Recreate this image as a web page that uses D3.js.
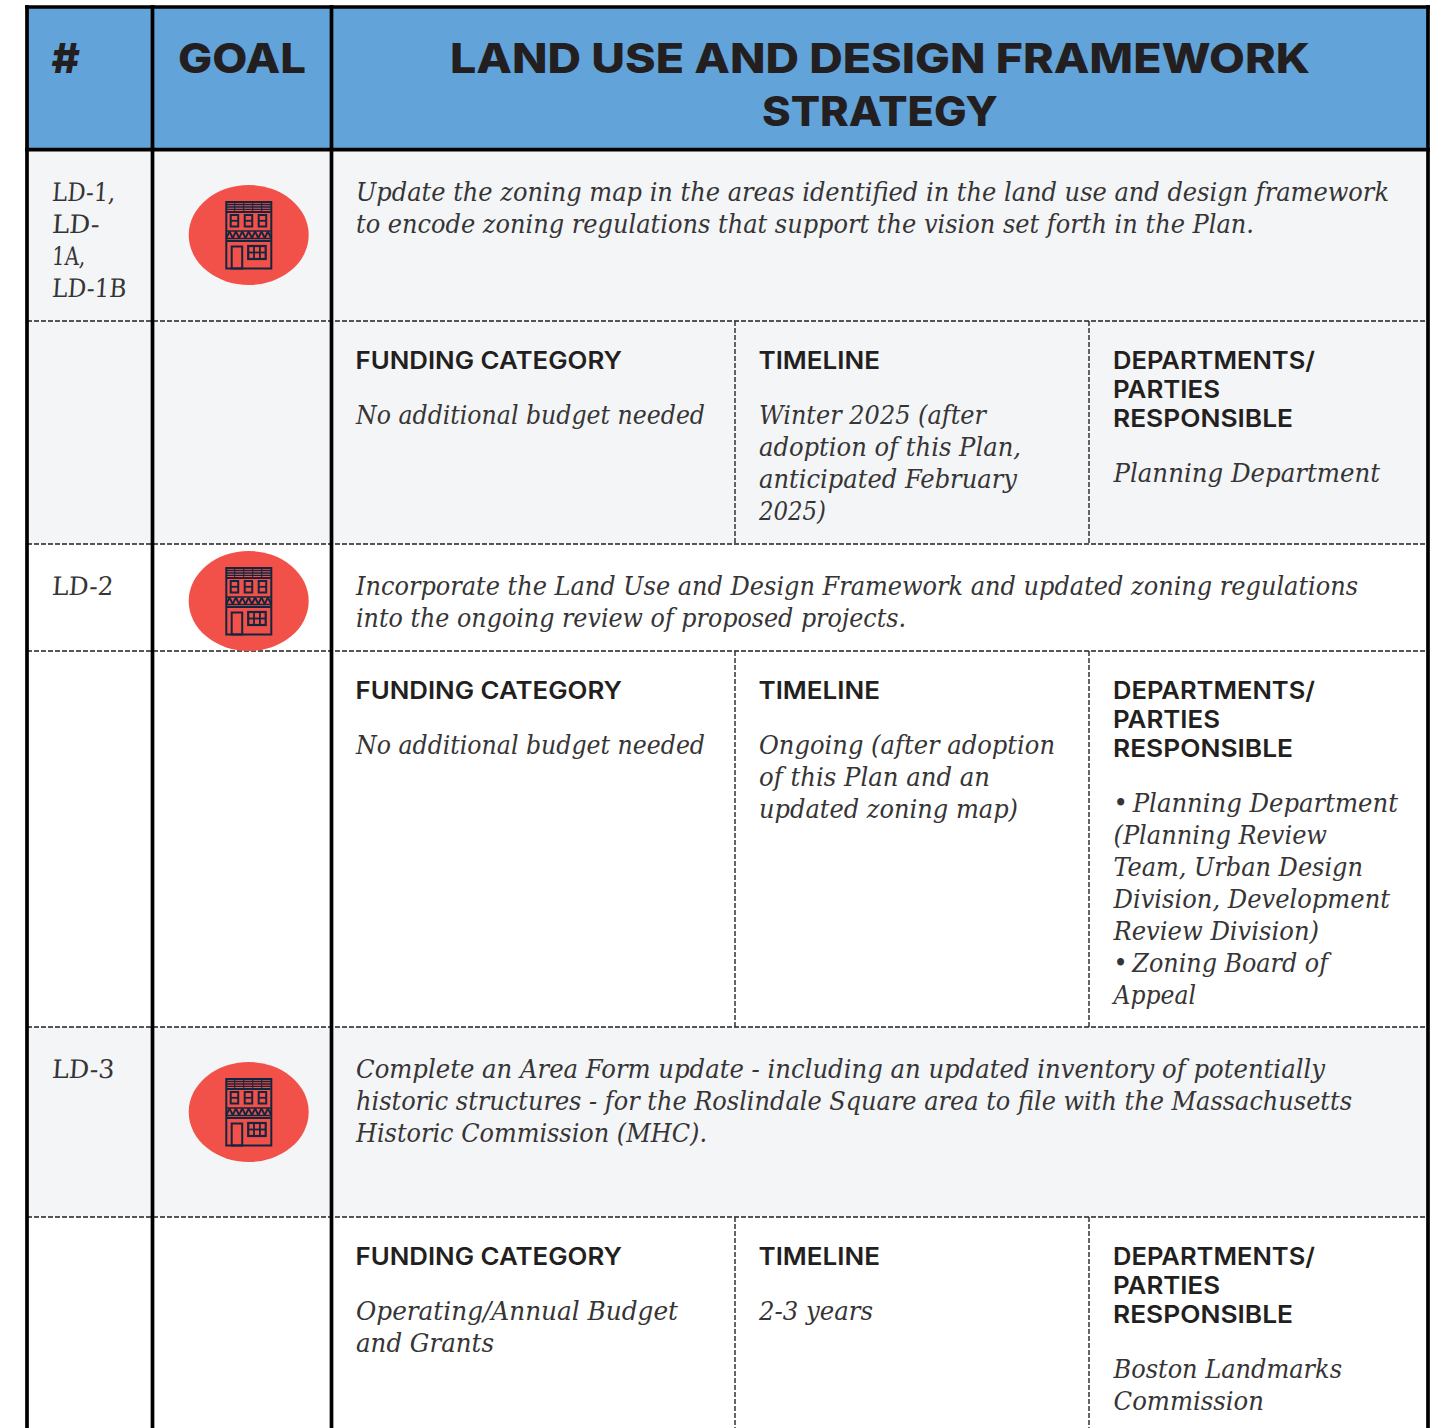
<!DOCTYPE html>
<html>
<head>
<meta charset="utf-8">
<script src="https://cdn.jsdelivr.net/npm/d3@7"></script>
<style>
  body { margin: 0; background: #fff; }
  svg { display: block; }
  .head { font-family: Inter, "Noto Sans", sans-serif; font-weight: 800; fill: #231f20; }
  .label { font-family: Inter, "Noto Sans", sans-serif; font-weight: 600; fill: #231f20; }
  .body { font-family: "DejaVu Serif Condensed", "DejaVu Serif", serif; font-style: italic; fill: #363435; }
  .id { font-family: "DejaVu Serif Condensed", "DejaVu Serif", serif; fill: #363435; }
</style>
</head>
<body>
<svg width="1447" height="1428"></svg>
<script>
var svg = d3.select("svg");

// table content
var headers = ["#", "GOAL"];
var titleLines = ["LAND USE AND DESIGN FRAMEWORK", "STRATEGY"];
var ids = [["LD-1,", "LD-", "1A,", "LD-1B"], ["LD-2"], ["LD-3"]];
var strategies = [
  ["Update the zoning map in the areas identified in the land use and design framework",
   "to encode zoning regulations that support the vision set forth in the Plan."],
  ["Incorporate the Land Use and Design Framework and updated zoning regulations",
   "into the ongoing review of proposed projects."],
  ["Complete an Area Form update - including an updated inventory of potentially",
   "historic structures - for the Roslindale Square area to file with the Massachusetts",
   "Historic Commission (MHC)."]
];
var fundingTitle = ["FUNDING CATEGORY"];
var timelineTitle = ["TIMELINE"];
var partiesTitle = ["DEPARTMENTS/", "PARTIES", "RESPONSIBLE"];
var fundings = [
  ["No additional budget needed"],
  ["No additional budget needed"],
  ["Operating/Annual Budget", "and Grants"]
];
var timelines = [
  ["Winter 2025 (after", "adoption of this Plan,", "anticipated February", "2025)"],
  ["Ongoing (after adoption", "of this Plan and an", "updated zoning map)"],
  ["2-3 years"]
];
var parties = [
  ["Planning Department"],
  ["\u2022\u2009Planning Department", "(Planning Review", "Team, Urban Design", "Division, Development", "Review Division)", "\u2022\u2009Zoning Board of", "Appeal"],
  ["Boston Landmarks", "Commission"]
];

// where each printed line ends
var idEnds = [[115, 99, 85, 126], [113], [114]];
var strategyEnds = [[1389, 1254], [1358, 906], [1325, 1352, 707]];
var fundingEnds = [[705], [705], [678, 494]];
var timelineEnds = [[986, 1021, 1017, 826], [1055, 990, 1018], [873]];
var partyEnds = [[1380], [1398, 1327, 1363, 1390, 1319, 1328, 1196], [1342, 1264]];

var rowNames = [0, 1, 2];
var rowTop = d3.scaleOrdinal(rowNames, [150, 544, 1027]);
var detailTop = d3.scaleOrdinal(rowNames, [321, 651, 1217]);
var rowBottom = d3.scaleOrdinal(rowNames, [544, 1027, 1428]);
var rowFill = d3.scaleOrdinal(rowNames, ["#f4f5f7", "#ffffff", "#f4f5f7"]);
var detailFill = d3.scaleOrdinal(rowNames, ["#f4f5f7", "#ffffff", "#ffffff"]);
var badgeY = d3.scaleOrdinal(rowNames, [235, 601, 1112]);

var colX = d3.scaleOrdinal(["id", "goal", "text", "funding", "timeline", "parties"],
                           [51.5, 178, 356, 356, 759, 1113.5]);
var left = 27, right = 1428, col1 = 152.5, col2 = 331.5, dash1 = 735, dash2 = 1089;

var bodySize = 25.5, bodyStep = 32, labelSize = 24.5, labelStep = 29;

// one printed line, fitted to its measured end
function put(x, y, str, end, cls, size) {
  var t = svg.append("text")
     .attr("class", cls)
     .attr("font-size", size)
     .text(str);
  if (cls == "id") {
    // the numbers lean only a little in the original
    t.attr("transform", "translate(" + x + "," + y + ") skewX(-4)");
  }
  else {
    t.attr("x", x).attr("y", y);
  }
  if (end) {
    t.attr("textLength", end - x).attr("lengthAdjust", "spacingAndGlyphs");
  }
  return t;
}

function putLines(x, y, lines, ends, cls, size, step) {
  lines.forEach(function(line, i) {
    put(x, y + i * step, line, ends ? ends[i] : null, cls, size);
  });
}

function hline(x1, x2, y) {
  svg.append("line").attr("x1", x1).attr("x2", x2).attr("y1", y).attr("y2", y)
     .attr("stroke", "#231f20").attr("stroke-width", 1.3).attr("stroke-dasharray", "5 2");
}

function vline(x, y1, y2) {
  svg.append("line").attr("x1", x).attr("x2", x).attr("y1", y1).attr("y2", y2)
     .attr("stroke", "#333").attr("stroke-width", 1.5).attr("stroke-dasharray", "5 2");
}

// the little building in the red badge
function badge(cy) {
  var g = svg.append("g").attr("transform", "translate(248.7," + cy + ")");
  var ink = "#13263f";
  g.append("ellipse").attr("rx", 60).attr("ry", 50).attr("fill", "#f2514a");

  function box(x, y, w, h, sw) {
    g.append("rect").attr("x", x).attr("y", y).attr("width", w).attr("height", h)
     .attr("fill", "none").attr("stroke", ink).attr("stroke-width", sw || 2);
  }
  function seg(x1, y1, x2, y2, sw) {
    g.append("line").attr("x1", x1).attr("y1", y1).attr("x2", x2).attr("y2", y2)
     .attr("stroke", ink).attr("stroke-width", sw || 1.5);
  }

  box(-22.4, -33, 45, 66.5, 2);
  // roof courses
  [-30.5, -28, -25.6].forEach(function(y) { seg(-22, y, 22, y, 1.3); });
  seg(-22, -23, 22, -23, 2);
  [-14, -5, 4, 13].forEach(function(x) { seg(x, -33, x, -24, 1); });
  // upper windows
  [-18, -4, 10].forEach(function(x) {
    box(x, -20, 7.5, 11.5, 2);
    seg(x, -14.2, x + 7.5, -14.2, 1.8);
  });
  // zigzag band
  seg(-22, -4, 22, -4, 1.6);
  seg(-22, 3.5, 22, 3.5, 1.6);
  seg(-22, 6, 22, 6, 1.8);
  d3.range(-22.4, 22, 6.4).forEach(function(x) {
    seg(x, 3, x + 3.2, -3.5, 1.9);
    seg(x + 3.2, -3.5, x + 6.4, 3, 1.9);
  });
  // door
  box(-17, 11.5, 10.5, 22, 2);
  // shop window
  box(-0.5, 11, 17.5, 13, 2.2);
  [5.3, 11.2].forEach(function(x) { seg(x, 11, x, 24, 1.8); });
  seg(-0.5, 17.5, 17, 17.5, 1.8);
}

// backgrounds
svg.append("rect").attr("x", left).attr("y", 7).attr("width", right - left).attr("height", 143).attr("fill", "#62a3d9");
rowNames.forEach(function(r) {
  svg.append("rect").attr("x", left).attr("y", rowTop(r)).attr("width", right - left)
     .attr("height", detailTop(r) - rowTop(r)).attr("fill", rowFill(r));
  svg.append("rect").attr("x", left).attr("y", detailTop(r)).attr("width", right - left)
     .attr("height", rowBottom(r) - detailTop(r)).attr("fill", detailFill(r));
});

// dashed rules
rowNames.forEach(function(r) {
  hline(left, right, detailTop(r));
  if (r < 2) hline(left, right, rowBottom(r));
  vline(dash1, detailTop(r), rowBottom(r));
  vline(dash2, detailTop(r), rowBottom(r));
});

// heavy frame
[27, col1, col2, right].forEach(function(x) {
  svg.append("line").attr("x1", x).attr("x2", x).attr("y1", 5).attr("y2", 1428)
     .attr("stroke", "#000").attr("stroke-width", 3.7);
});
[7, 149.7].forEach(function(y) {
  svg.append("line").attr("x1", 25).attr("x2", 1430).attr("y1", y).attr("y2", y)
     .attr("stroke", "#000").attr("stroke-width", 3.7);
});

// header text
put(colX("id"), 73, headers[0], 80, "head", 41);
put(colX("goal"), 73, headers[1], 306, "head", 41);
put(450, 73, titleLines[0], 1310, "head", 41);
put(762, 125.5, titleLines[1], 998, "head", 41);

// rows
rowNames.forEach(function(r) {
  var top = rowTop(r), det = detailTop(r);
  putLines(colX("id"), top + 51, ids[r], idEnds[r], "id", bodySize, bodyStep);
  badge(badgeY(r));
  putLines(colX("text"), top + 51, strategies[r], strategyEnds[r], "body", bodySize, bodyStep);

  put(colX("funding") - 0.5, det + 47.7, fundingTitle[0], 622, "label", labelSize);
  put(colX("timeline") - 0.5, det + 47.7, timelineTitle[0], 880, "label", labelSize);
  putLines(colX("parties") - 0.5, det + 47.7, partiesTitle, [1315, 1220, 1293], "label", labelSize, labelStep);

  putLines(colX("funding"), det + 103, fundings[r], fundingEnds[r], "body", bodySize, bodyStep);
  putLines(colX("timeline"), det + 103, timelines[r], timelineEnds[r], "body", bodySize, bodyStep);
  putLines(colX("parties"), det + 161, parties[r], partyEnds[r], "body", bodySize, bodyStep);
});
</script>
</body>
</html>
